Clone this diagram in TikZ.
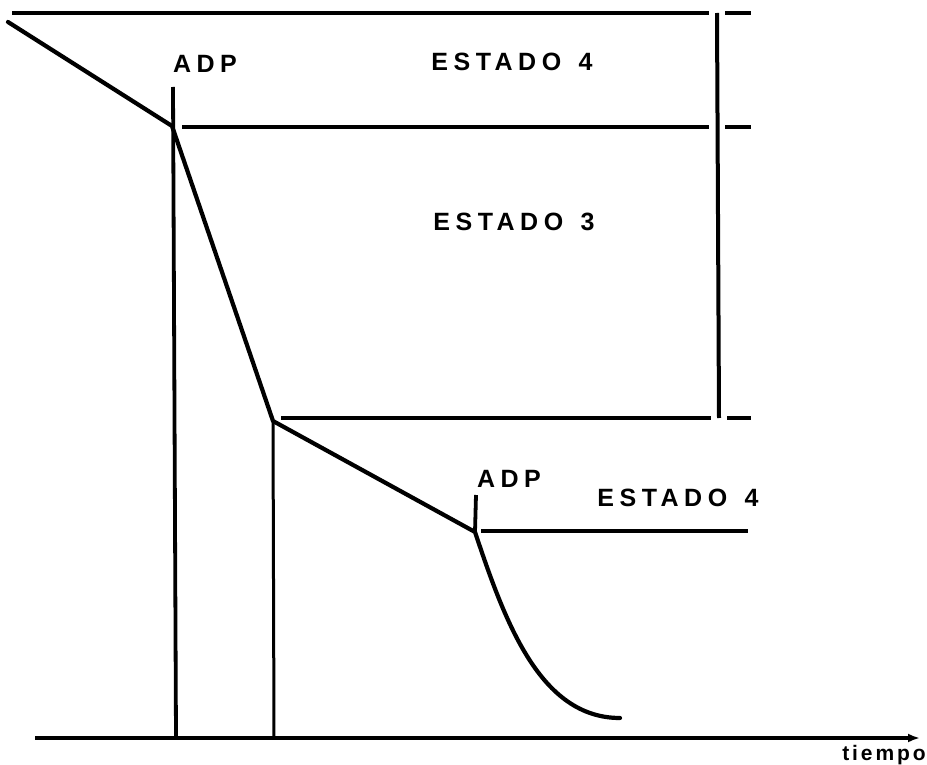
\documentclass[tikz,border=0pt]{standalone}
\usepackage{fontspec}
\setmainfont{Liberation Sans}
\newfontfamily\lblfont[LetterSpace=22]{Liberation Sans Bold}
\newfontfamily\tfont[LetterSpace=14]{Liberation Sans Bold}
\usetikzlibrary{arrows.meta}
\tikzset{
  trace/.style={line width=4.2pt, line cap=round, line join=round},
  level/.style={line width=3.6pt},
  vline/.style={line width=3pt},
  lbl/.style={font=\lblfont\fontsize{25}{28}\selectfont, inner sep=0pt},
  tlbl/.style={font=\tfont\fontsize{21}{23}\selectfont, inner sep=0pt}
}
\begin{document}
\begin{tikzpicture}[x=1pt,y=-1pt]
\useasboundingbox (0,0) rectangle (927,765);
% key coordinates
\coordinate (s0) at (8,22);
\coordinate (p1) at (172,126);
\coordinate (p2) at (273,421);
\coordinate (p3) at (475,532);
\coordinate (p4) at (620,718);
% levels
\coordinate (t1a) at (12,13);   \coordinate (t1b) at (709,13);
\coordinate (t1c) at (725,13);  \coordinate (t1d) at (751,13);
\coordinate (t2a) at (182,127); \coordinate (t2b) at (709,127);
\coordinate (t2c) at (725,127); \coordinate (t2d) at (751,127);
\coordinate (t3a) at (281,418); \coordinate (t3b) at (711,418);
\coordinate (t3c) at (727,418); \coordinate (t3d) at (751,418);
\coordinate (t4a) at (481,531); \coordinate (t4b) at (748,531);
\coordinate (rv1) at (717,13);  \coordinate (rv2) at (719,418);
% verticals
\coordinate (v1t) at (173,87);  \coordinate (v1b) at (176,738);
\coordinate (v2t) at (273,421); \coordinate (v2b) at (274,738);
\coordinate (v3t) at (476,495);
% axis
\coordinate (ax0) at (35,738);  \coordinate (ax1) at (920,738);

\draw[level] (t1a) -- (t1b);
\draw[level] (t1c) -- (t1d);
\draw[level] (t2a) -- (t2b);
\draw[level] (t2c) -- (t2d);
\draw[level] (t3a) -- (t3b);
\draw[level] (t3c) -- (t3d);
\draw[level] (t4a) -- (t4b);
\draw[vline, line width=4pt] (rv1) -- (rv2);

\draw[vline, line width=3.8pt] (v1t) -- (v1b);
\draw[vline] (v2t) -- (v2b);
\draw[vline, line width=3.8pt] (v3t) -- (p3);

\draw[level, -{Latex[length=12pt,width=9pt]}] (ax0) -- (ax1);

\draw[trace] (s0) -- (p1) -- (p2) -- (p3)
  .. controls (505,622) and (540,718) .. (p4);

\node[lbl] (adp1) at (205,64) {ADP};
\node[lbl] (e4a) at (512,62) {ESTADO \hspace{5pt}4};
\node[lbl] (e3) at (514,222) {ESTADO \hspace{5pt}3};
\node[lbl] (adp2) at (509,479) {ADP};
\node[lbl] (e4b) at (678,498) {ESTADO \hspace{5pt}4};
\node[tlbl, anchor=east] (tiempo) at (926,755) {tiempo};
\end{tikzpicture}
\end{document}
